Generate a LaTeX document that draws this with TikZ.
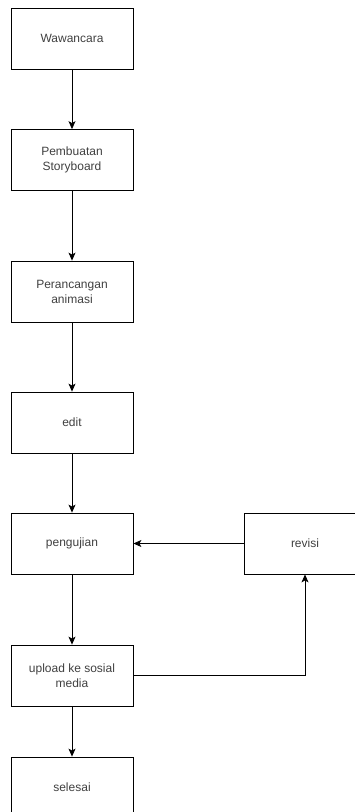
\documentclass[tikz,border=0pt]{standalone}
\usepackage{fontspec}
\setmainfont{Liberation Sans}
\usetikzlibrary{arrows.meta}

\begin{document}
\begin{tikzpicture}[x=1pt,y=-1pt,line width=0.8pt,
  every node/.style={font=\fontsize{12}{15}\selectfont,text=black!75},
  box/.style={draw,minimum width=122pt,minimum height=61pt,align=center,inner sep=0pt},
  arr/.style={-{Stealth[length=8pt,width=7pt,inset=2pt]}}]
  % -=-=-=-=- FRAME -=-=-=-=-
  \useasboundingbox (0,0) rectangle (355,812);
  \clip (0,0) rectangle (355,812);
  % -=-=-=-=- STEPS -=-=-=-=-
  \node[box] (wawancara) at (72,38.5) {Wawancara};
  \node[box] (storyboard) at (72,160) {Pembuatan\\Storyboard};
  \node[box] (perancangan) at (72,291.5) {Perancangan\\animasi};
  \node[box] (edit) at (72,422.5) {edit};
  \node[box] (pengujian) at (72,543.5) {pengujian};
  \node[box] (revisi) at (305,543.5) {revisi};
  \node[box] (upload) at (72,675.5) {upload ke sosial\\media};
  \node[box] (selesai) at (72,787.5) {selesai};
  % -=-=-=-=- ARROWS -=-=-=-=-
  \draw[arr] (wawancara) -- (storyboard);
  \draw[arr] (storyboard) -- (perancangan);
  \draw[arr] (perancangan) -- (edit);
  \draw[arr] (edit) -- (pengujian);
  \draw[arr] (pengujian) -- (upload);
  \draw[arr] (upload) -- (selesai);
  \draw[arr] (upload) -| (revisi);
  \draw[arr] (revisi) -- (pengujian);
\end{tikzpicture}
\end{document}
